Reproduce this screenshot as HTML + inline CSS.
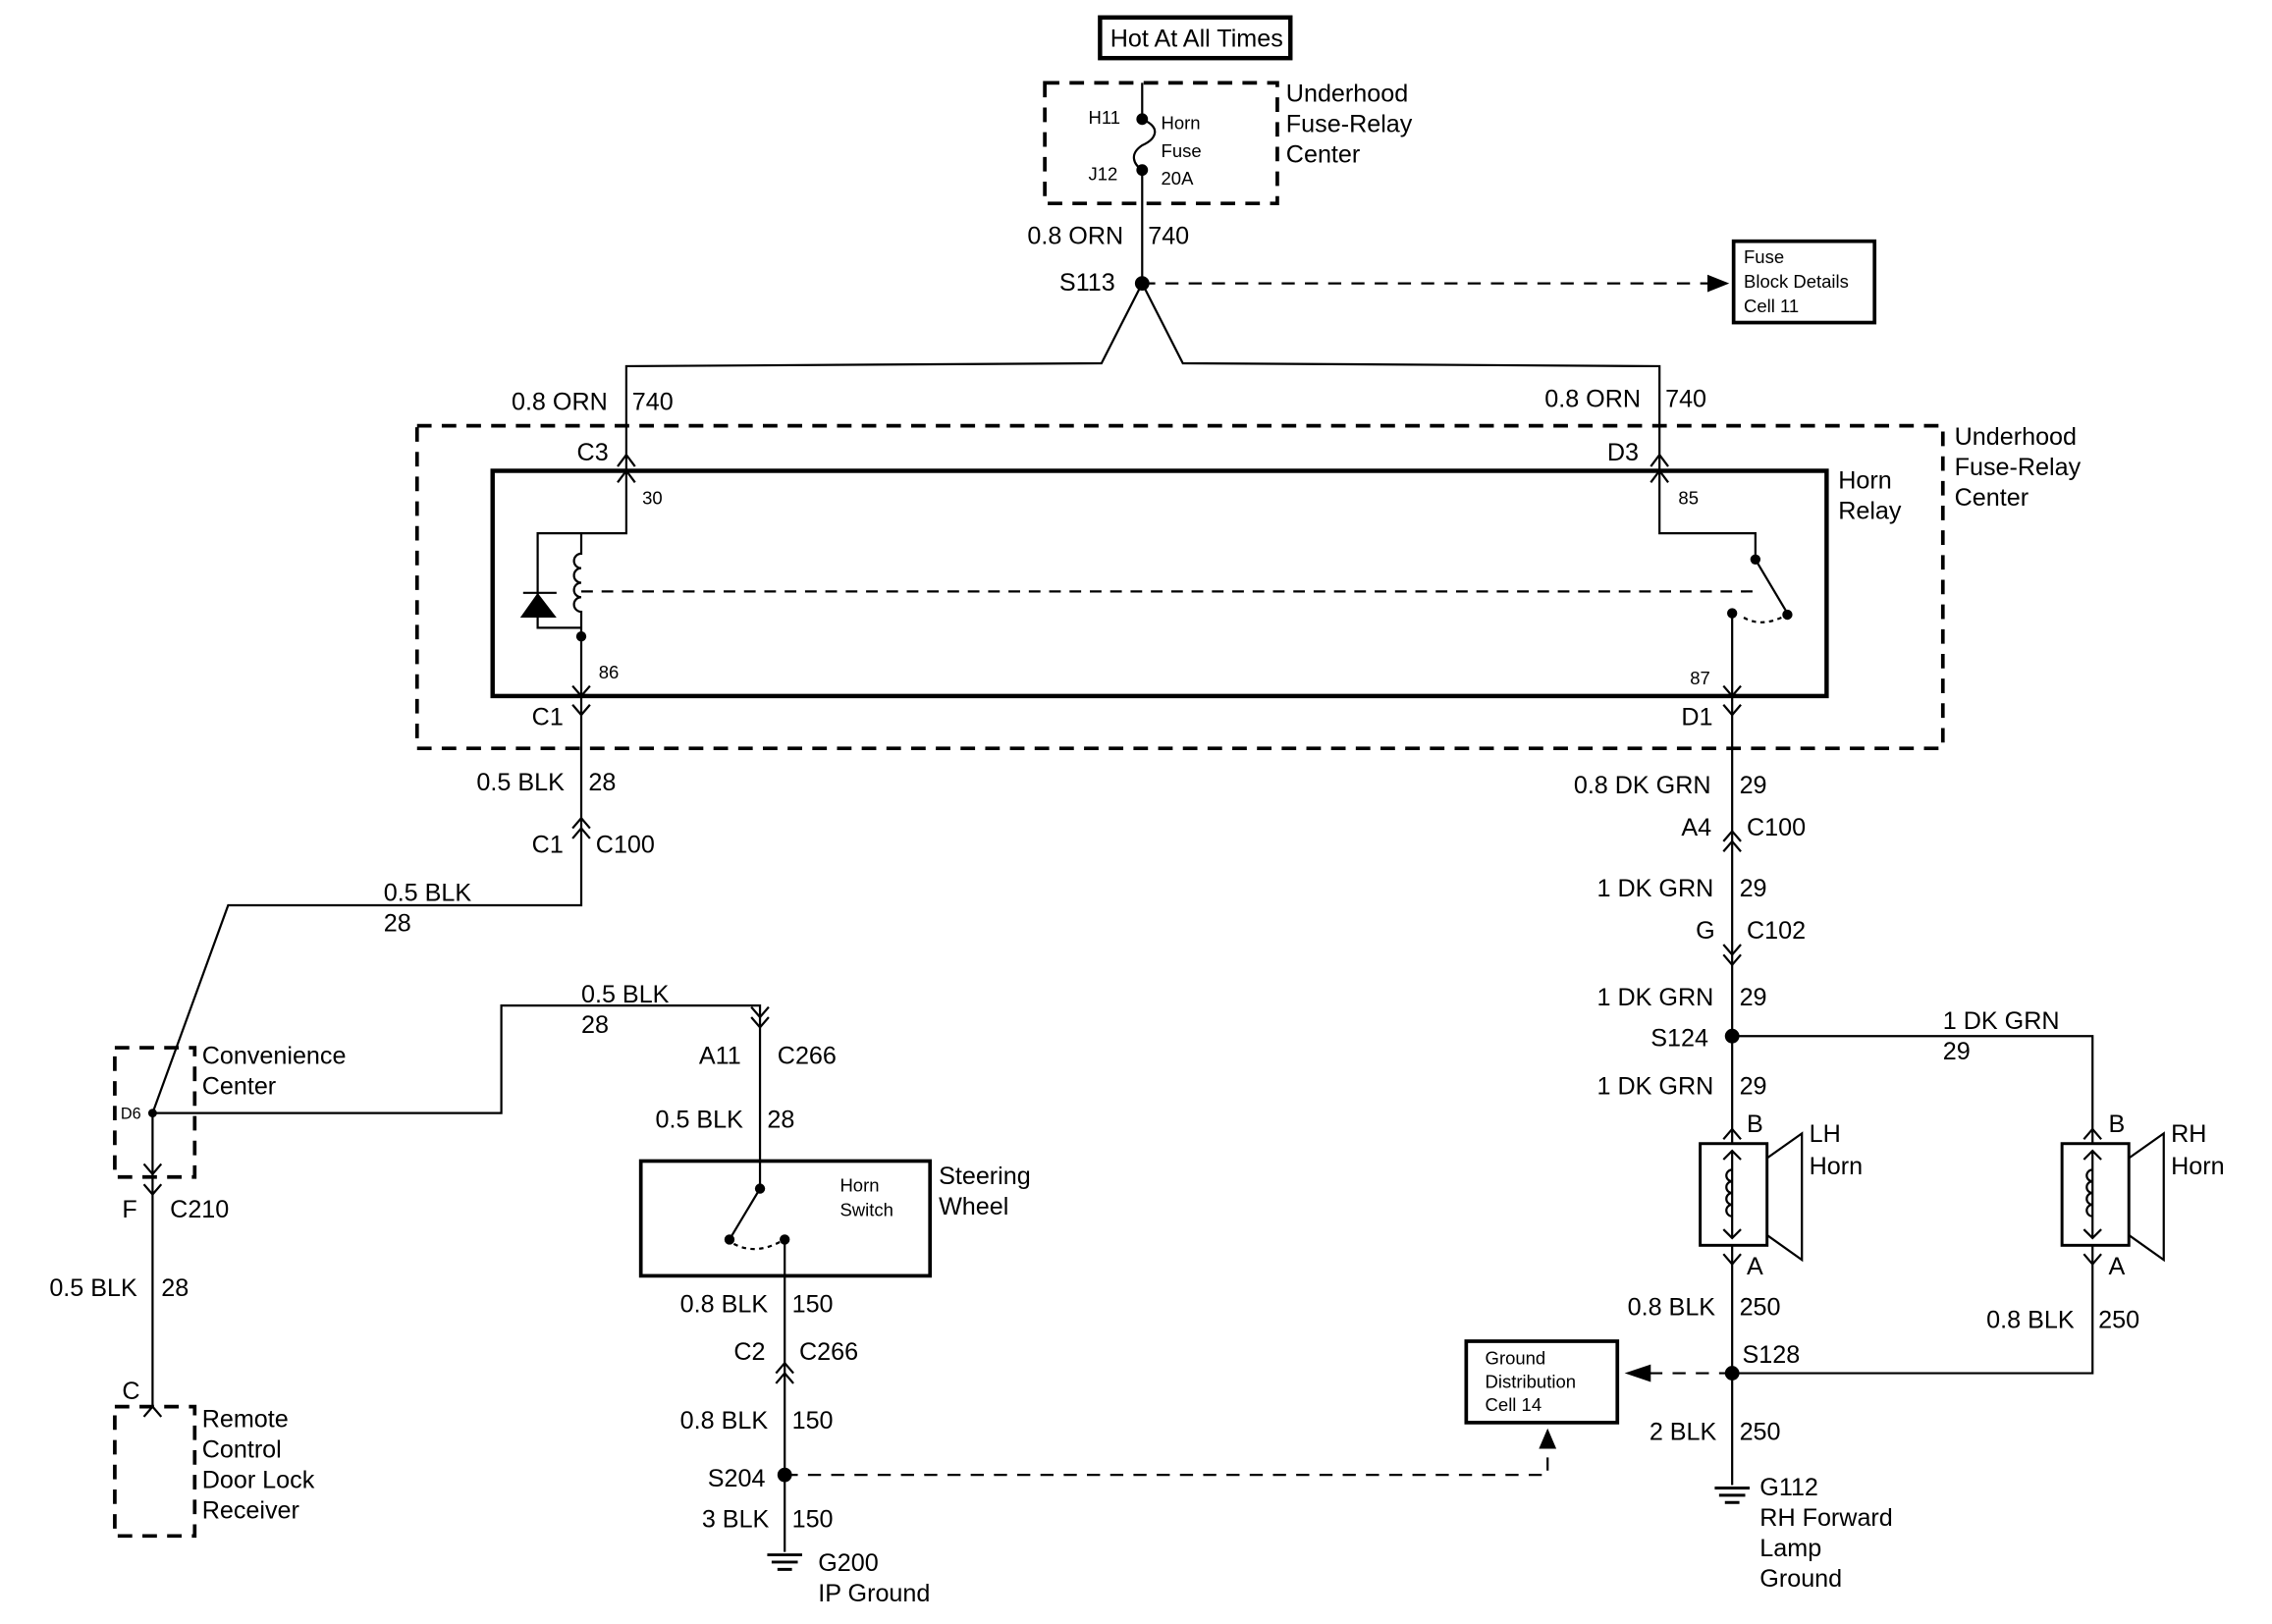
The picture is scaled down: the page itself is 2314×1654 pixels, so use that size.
<!DOCTYPE html>
<html><head><meta charset="utf-8"><style>
html,body{margin:0;padding:0;background:#fff}
svg{display:block}
text{font-family:"Liberation Sans",sans-serif;fill:#000}
.t{font-size:17px}.s{font-size:12.5px}
</style></head><body>
<svg width="2314" height="1654" viewBox="0 0 1563.5 1117.6" preserveAspectRatio="none" xmlns="http://www.w3.org/2000/svg">
<g fill="none" stroke="#000" stroke-width="1.5">
<rect x="757" y="12" width="131" height="28" stroke-width="3"/>
<rect x="719" y="57" width="160" height="83" stroke-dasharray="10,7" stroke-width="2.5"/>
<path d="M786,57 V82 C800,88 795,96 786,100 C777,106 780,113 786,117 V195"/>
<path d="M786,195 H1180" stroke-dasharray="9,7"/>
<rect x="1193" y="166" width="97" height="56" stroke-width="2.5"/>
<path d="M786,195 L758,250 L431,252 V324 M786,195 L814,250 L1142,252 V324"/>
<rect x="287" y="293" width="1050" height="222" stroke-dasharray="10,7" stroke-width="2.5"/>
<rect x="339" y="324" width="918" height="155" stroke-width="3"/>
<path d="M425,321 L431,313 L437,321 M425,332 L431,324 L437,332"/>
<path d="M1136,321 L1142,313 L1148,321 M1136,332 L1142,324 L1148,332"/>
<path d="M431,324 V367 H370 V432 H400 M400,367 V381 a5,5 0 0 0 0,10 a5,5 0 0 0 0,10 a5,5 0 0 0 0,10 a5,5 0 0 0 0,10 V479"/>
<path d="M360,408 H383"/>
<path d="M400,407 H1210" stroke-dasharray="8,6"/>
<path d="M1142,324 V367 H1208 V385 L1230,422 M1192,422 V479"/>
<path d="M1200,425 Q1212,432 1228,424" stroke-dasharray="3,3"/>
<path d="M394,472 L400,479 L406,472 M394,485 L400,492 L406,485 M1186,472 L1192,479 L1198,472 M1186,485 L1192,492 L1198,485"/>
<path d="M400,479 V623 H157 L105,766 H345 V692 H523 V818 L502,853"/>
<path d="M105,766 V968"/>
<path d="M394,570 L400,563 L406,570 M394,577 L400,570 L406,577"/>
<rect x="79" y="721" width="55" height="89" stroke-dasharray="10,7" stroke-width="2.5"/>
<path d="M99,801 L105,808 L111,801 M99,815 L105,822 L111,815"/>
<path d="M517,693 L523,700 L529,693 M517,700 L523,707 L529,700"/>
<rect x="441" y="799" width="199" height="79" stroke-width="2.5"/>
<path d="M505,856 Q520,864 538,854" stroke-dasharray="3,3"/>
<path d="M540,853 V1068"/>
<path d="M534,945 L540,938 L546,945 M534,952 L540,945 L546,952"/>
<path d="M540,1015 H1065 V990" stroke-dasharray="9,7"/>
<rect x="79" y="968" width="55" height="89" stroke-dasharray="10,7" stroke-width="2.5"/>
<path d="M99,975 L105,968 L111,975"/>
<path d="M1192,479 V787 M1192,857 V1022"/>
<path d="M1186,579 L1192,572 L1198,579 M1186,586 L1192,579 L1198,586"/>
<path d="M1186,650 L1192,657 L1198,650 M1186,657 L1192,664 L1198,657"/>
<path d="M1192,713 H1440 V787 M1440,857 V945 H1192"/>
<path d="M1192,945 H1135" stroke-dasharray="9,7"/>
<rect x="1009" y="923" width="104" height="56" stroke-width="2.5"/>
<rect x="1170" y="787" width="46" height="70" stroke-width="2"/>
<path d="M1216,797 L1240,780 V867 L1216,850"/>
<rect x="1419" y="787" width="46" height="70" stroke-width="2"/>
<path d="M1465,797 L1489,780 V867 L1465,850"/>
<path d="M1186,784 L1192,777 L1198,784 M1186,863 L1192,870 L1198,863 M1434,784 L1440,777 L1446,784 M1434,863 L1440,870 L1446,863"/>
<path d="M1192,792 V852 M1186,798 L1192,792 L1198,798 M1186,846 L1192,852 L1198,846 M1192,805 a4,4 0 0 0 0,8 a4,4 0 0 0 0,8 a4,4 0 0 0 0,8 a4,4 0 0 0 0,8"/>
<path d="M1440,792 V852 M1434,798 L1440,792 L1446,798 M1434,846 L1440,852 L1446,846 M1440,805 a4,4 0 0 0 0,8 a4,4 0 0 0 0,8 a4,4 0 0 0 0,8 a4,4 0 0 0 0,8"/>
<path d="M528,1070 H552 M531,1075 H549 M535,1080 H545" stroke-width="2"/>
<path d="M1180,1024 H1204 M1183,1029 H1201 M1187,1034 H1197" stroke-width="2"/>
</g>
<g fill="#000">
<circle cx="786" cy="82" r="4"/><circle cx="786" cy="117" r="4"/><circle cx="786" cy="195" r="5"/>
<path d="M1175,189 L1190,195 L1175,201Z"/>
<path d="M358,425 L383,425 L370,408Z"/>
<circle cx="400" cy="438" r="3.5"/><circle cx="1208" cy="385" r="3.5"/><circle cx="1230" cy="423" r="3.5"/><circle cx="1192" cy="422" r="3.5"/>
<circle cx="105" cy="766" r="3"/><circle cx="523" cy="818" r="3.5"/><circle cx="502" cy="853" r="3.5"/><circle cx="540" cy="853" r="3.5"/>
<circle cx="540" cy="1015" r="5"/><circle cx="1192" cy="713" r="5"/><circle cx="1192" cy="945" r="5"/>
<path d="M1118,945 L1136,939 L1136,951Z"/>
<path d="M1065,983 L1059,997 L1071,997Z"/>
</g>
<text class="t" x="764" y="32">Hot At All Times</text>
<text class="s" x="749" y="85">H11</text><text class="s" x="749" y="124">J12</text>
<text class="s" x="799" y="89">Horn</text><text class="s" x="799" y="108">Fuse</text><text class="s" x="799" y="127">20A</text>
<text class="t" x="885" y="70">Underhood</text><text class="t" x="885" y="91">Fuse-Relay</text><text class="t" x="885" y="112">Center</text>
<text class="t" x="707" y="168">0.8 ORN</text><text class="t" x="790" y="168">740</text>
<text class="t" x="729" y="200">S113</text>
<text class="s" x="1200" y="181">Fuse</text><text class="s" x="1200" y="198">Block Details</text><text class="s" x="1200" y="215">Cell 11</text>
<text class="t" x="352" y="282">0.8 ORN</text><text class="t" x="435" y="282">740</text>
<text class="t" x="1063" y="280">0.8 ORN</text><text class="t" x="1146" y="280">740</text>
<text class="t" x="1345" y="306">Underhood</text><text class="t" x="1345" y="327">Fuse-Relay</text><text class="t" x="1345" y="348">Center</text>
<text class="t" x="1265" y="336">Horn</text><text class="t" x="1265" y="357">Relay</text>
<text class="t" x="397" y="317">C3</text><text class="t" x="1106" y="317">D3</text>
<text class="s" x="442" y="347">30</text><text class="s" x="1155" y="347">85</text>
<text class="s" x="412" y="467">86</text><text class="s" x="1163" y="471">87</text>
<text class="t" x="366" y="499">C1</text><text class="t" x="1157" y="499">D1</text>
<text class="t" x="328" y="544">0.5 BLK</text><text class="t" x="405" y="544">28</text>
<text class="t" x="366" y="587">C1</text><text class="t" x="410" y="587">C100</text>
<text class="t" x="264" y="620">0.5 BLK</text><text class="t" x="264" y="641">28</text>
<text class="t" x="400" y="690">0.5 BLK</text><text class="t" x="400" y="711">28</text>
<text class="t" x="481" y="732">A11</text><text class="t" x="535" y="732">C266</text>
<text class="t" x="139" y="732">Convenience</text><text class="t" x="139" y="753">Center</text>
<text class="s" x="83" y="770" style="font-size:11px">D6</text>
<text class="t" x="451" y="776">0.5 BLK</text><text class="t" x="528" y="776">28</text>
<text class="s" x="578" y="820">Horn</text><text class="s" x="578" y="837">Switch</text>
<text class="t" x="646" y="815">Steering</text><text class="t" x="646" y="836">Wheel</text>
<text class="t" x="84" y="838">F</text><text class="t" x="117" y="838">C210</text>
<text class="t" x="34" y="892">0.5 BLK</text><text class="t" x="111" y="892">28</text>
<text class="t" x="84" y="963">C</text>
<text class="t" x="139" y="982">Remote</text><text class="t" x="139" y="1003">Control</text><text class="t" x="139" y="1024">Door Lock</text><text class="t" x="139" y="1045">Receiver</text>
<text class="t" x="468" y="903">0.8 BLK</text><text class="t" x="545" y="903">150</text>
<text class="t" x="505" y="936">C2</text><text class="t" x="550" y="936">C266</text>
<text class="t" x="468" y="983">0.8 BLK</text><text class="t" x="545" y="983">150</text>
<text class="t" x="487" y="1023">S204</text>
<text class="t" x="483" y="1051">3 BLK</text><text class="t" x="545" y="1051">150</text>
<text class="t" x="563" y="1081">G200</text><text class="t" x="563" y="1102">IP Ground</text>
<text class="t" x="1083" y="546">0.8 DK GRN</text><text class="t" x="1197" y="546">29</text>
<text class="t" x="1157" y="575">A4</text><text class="t" x="1202" y="575">C100</text>
<text class="t" x="1099" y="617">1 DK GRN</text><text class="t" x="1197" y="617">29</text>
<text class="t" x="1167" y="646">G</text><text class="t" x="1202" y="646">C102</text>
<text class="t" x="1099" y="692">1 DK GRN</text><text class="t" x="1197" y="692">29</text>
<text class="t" x="1337" y="708">1 DK GRN</text><text class="t" x="1337" y="729">29</text>
<text class="t" x="1136" y="720">S124</text>
<text class="t" x="1099" y="753">1 DK GRN</text><text class="t" x="1197" y="753">29</text>
<text class="t" x="1202" y="779">B</text><text class="t" x="1451" y="779">B</text>
<text class="t" x="1245" y="786">LH</text><text class="t" x="1245" y="808">Horn</text>
<text class="t" x="1494" y="786">RH</text><text class="t" x="1494" y="808">Horn</text>
<text class="t" x="1202" y="877">A</text><text class="t" x="1451" y="877">A</text>
<text class="t" x="1120" y="905">0.8 BLK</text><text class="t" x="1197" y="905">250</text>
<text class="t" x="1367" y="914">0.8 BLK</text><text class="t" x="1444" y="914">250</text>
<text class="t" x="1199" y="938">S128</text>
<text class="s" x="1022" y="939">Ground</text><text class="s" x="1022" y="955">Distribution</text><text class="s" x="1022" y="971">Cell 14</text>
<text class="t" x="1135" y="991">2 BLK</text><text class="t" x="1197" y="991">250</text>
<text class="t" x="1211" y="1029">G112</text><text class="t" x="1211" y="1050">RH Forward</text><text class="t" x="1211" y="1071">Lamp</text><text class="t" x="1211" y="1092">Ground</text>
</svg>
</body></html>
